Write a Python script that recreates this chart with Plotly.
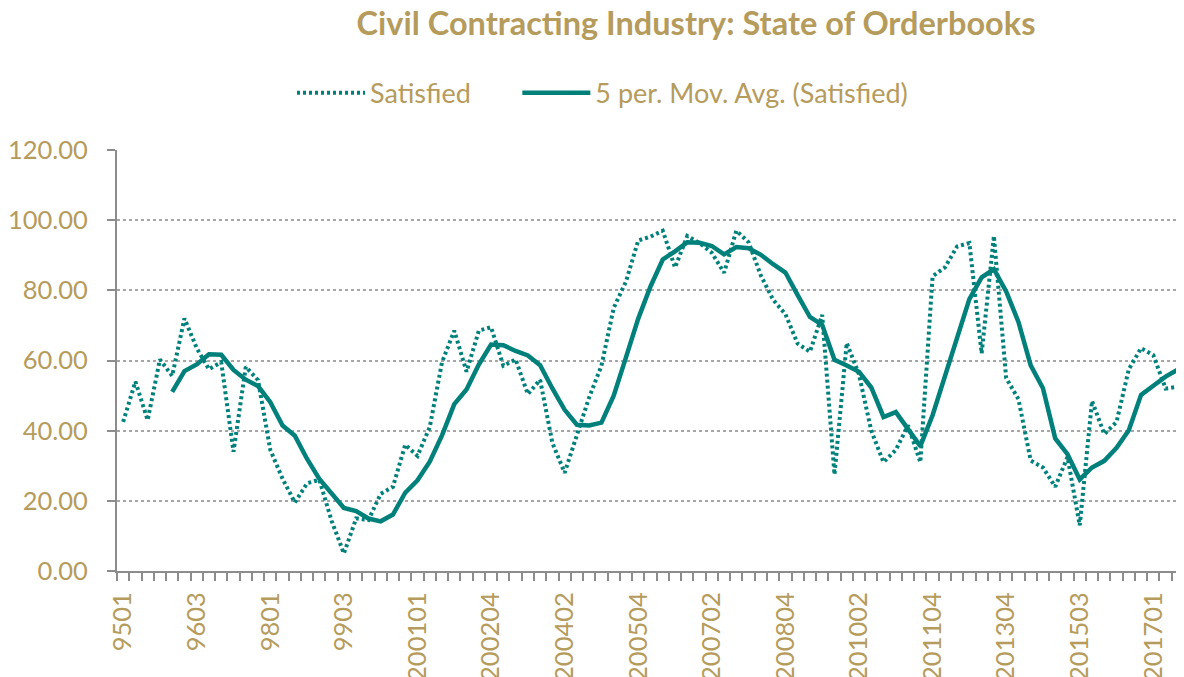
import plotly.graph_objects as go
import pandas as pd

# Quarterly survey periods (labels as they appear on the axis)
categories = [
    "9501", "9502", "9503", "9504", "9601", "9602", "9603", "9604", "9701", "9702",
    "9703", "9704", "9801", "9802", "9803", "9804", "9901", "9902", "9903", "9904",
    "200001", "200002", "200003", "200004", "200101", "200102", "200103", "200104", "200202", "200203",
    "200204", "200301", "200302", "200303", "200304", "200401", "200402", "200403", "200404", "200501",
    "200502", "200503", "200504", "200601", "200602", "200603", "200604", "200701", "200702", "200703",
    "200704", "200801", "200802", "200803", "200804", "200901", "200902", "200903", "200904", "201001",
    "201002", "201003", "201004", "201101", "201102", "201103", "201104", "201201", "201202", "201203",
    "201204", "201301", "201304", "201401", "201402", "201403", "201404", "201501", "201503", "201504",
    "201601", "201602", "201603", "201604", "201701", "201702", "201703",
]

satisfied = [
    42.5, 54.0, 43.0, 60.3, 55.6, 72.0, 63.5, 57.5, 59.5, 34.0,
    58.2, 54.4, 34.5, 26.3, 19.5, 25.0, 26.0, 14.3, 5.0, 15.0,
    14.5, 22.0, 24.0, 36.0, 32.8, 41.0, 59.5, 68.5, 56.8, 68.5,
    69.5, 58.5, 60.3, 50.4, 54.5, 36.5, 28.0, 39.0, 49.5, 58.5,
    75.0, 82.5, 94.2, 95.3, 97.0, 86.5, 95.5, 93.5, 90.7, 85.0,
    97.0, 93.7, 84.2, 77.3, 73.2, 64.8, 62.5, 73.0, 27.5, 65.0,
    56.0, 40.0, 31.0, 34.5, 41.5, 31.0, 84.0, 86.5, 92.5, 93.5,
    62.0, 95.5, 55.0, 49.0, 31.5, 29.5, 24.0, 32.5, 13.0, 48.5,
    39.0, 42.5, 57.5, 63.5, 61.5, 52.0, 52.5,
]

series_names = ["Satisfied", "5 per. Mov. Avg. (Satisfied)"]
ma_period = 5
label_step = 6

x_idx = list(range(len(categories)))
moving_avg = pd.Series(satisfied).rolling(ma_period).mean().tolist()

tick_idx = x_idx[::label_step]
tick_text = [categories[i] for i in tick_idx]
boundaries = [i - 0.5 for i in range(len(categories) + 1)]

TEAL = "#00807A"
GOLD = "#B59B5C"
AXIS = "#8C8C8C"
GRID = "#A6A6A6"
FONT = "Lato"
NBSP = "\u00a0"

# page body adds an 8px offset, so the figure is drawn 8px smaller
W, H = 1176, 669
ML, MT, MB = 109, 142, 106

fig = go.Figure()
fig.add_trace(go.Scatter(
    x=x_idx, y=satisfied, mode="lines",
    name=series_names[0] + NBSP * 6,
    line=dict(color=TEAL, width=4, dash="3px,3px"),
))
fig.add_trace(go.Scatter(
    x=x_idx, y=moving_avg, mode="lines", name=series_names[1],
    line=dict(color=TEAL, width=4.5),
))

fig.update_layout(
    width=W, height=H,
    margin=dict(l=ML, r=0, t=MT, b=MB, autoexpand=False),
    paper_bgcolor="white", plot_bgcolor="white",
    font=dict(family=FONT, size=26, color=GOLD),
    title=dict(
        text="<b>Civil Contracting Industry: State of Orderbooks</b>",
        x=688 / W, xref="container", xanchor="center",
        y=1 - 16 / H, yref="container", yanchor="middle",
        font=dict(family=FONT, size=32.5, color=GOLD),
    ),
    legend=dict(
        orientation="h", x=(284 - ML) / (W - ML), xanchor="left",
        y=1.135, yanchor="middle",
        font=dict(family=FONT, size=27, color=GOLD),
        bgcolor="rgba(0,0,0,0)", itemwidth=68,
    ),
    showlegend=True,
)

fig.update_xaxes(
    range=[-0.5, len(categories) - 0.5], automargin=False,
    tickmode="array", tickvals=tick_idx, ticktext=tick_text,
    tickangle=-90, ticks="", showgrid=False, zeroline=False,
    ticklabelstandoff=9,
    showline=True, linecolor=AXIS, linewidth=2,
    tickfont=dict(family=FONT, size=25.5, color=GOLD),
    minor=dict(tickmode="array", tickvals=boundaries, ticks="outside",
               ticklen=8, tickcolor=AXIS, tickwidth=1.5, showgrid=False),
)
fig.update_yaxes(
    range=[0, 120], automargin=False,
    tickmode="linear", tick0=0, dtick=20, tickformat=".2f",
    ticks="outside", ticklen=8, tickcolor=AXIS, tickwidth=1.5,
    ticklabelstandoff=14,
    showline=True, linecolor=AXIS, linewidth=2,
    showgrid=True, gridcolor=GRID, gridwidth=1.5, griddash="dot",
    zeroline=False,
    tickfont=dict(family=FONT, size=25.5, color=GOLD),
)

fig.write_html("out.html")
